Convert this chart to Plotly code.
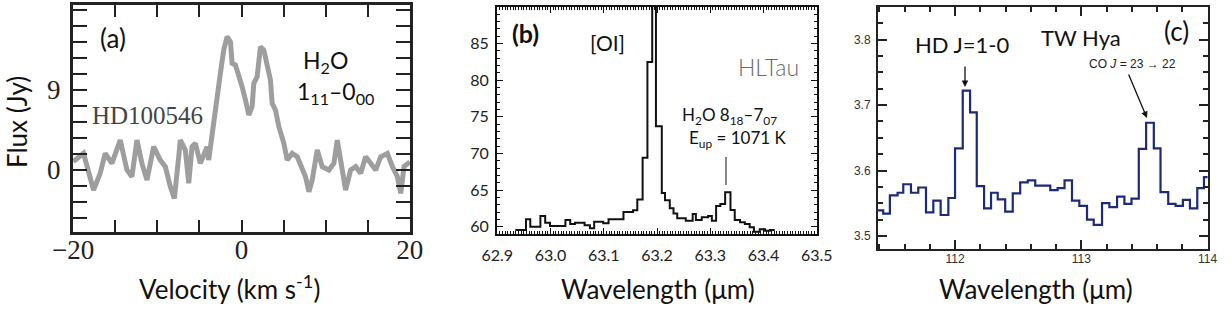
import plotly.graph_objects as go

W, H = 1231, 310

# ---------------- data ----------------
# (a) HD100546, H2O 1_11-0_00
vel_a = [-20.0, -19.76, -18.77, -18.37, -17.58, -16.79, -16.19, -15.40, -14.41, -13.61,
         -13.02, -12.42, -11.83, -11.23, -10.44, -9.65, -9.05, -8.46, -7.98, -7.46,
         -7.27, -6.67, -6.27, -5.88, -5.48, -4.89, -4.49, -4.09, -3.90, -3.70,
         -3.30, -2.90, -2.51, -2.11, -1.71, -1.31, -1.12, -0.72, -0.32, 0.07,
         0.47, 0.87, 1.26, 1.46, 1.86, 2.25, 2.65, 3.05, 3.44, 3.64,
         4.04, 4.44, 5.03, 5.43, 6.02, 6.62, 7.21, 7.61, 8.01, 8.40,
         9.0, 9.59, 10.39, 10.98, 11.38, 11.78, 12.37, 12.96, 13.56, 14.16,
         14.75, 15.35, 15.94, 16.54, 17.33, 17.93, 18.52, 18.92, 19.31, 20.0]
flux_a = [1.0, 1.12, 1.87, 0.38, -2.25, -0.37, 1.87, 0.75, 3.37, 0.0,
          -0.75, 3.37, 0.75, -1.12, 2.62, 1.12, 0.38, -1.87, -3.19, 1.50,
          3.37, 2.25, -1.50, 2.62, 3.0, 0.75, 1.87, 2.62, 1.12, 2.62,
          6.0, 7.88, 10.87, 13.5, 15.0, 14.43, 12.0, 11.81, 10.69, 9.37,
          7.88, 6.18, 7.13, 9.75, 10.5, 13.87, 13.5, 12.0, 10.12, 7.50,
          6.75, 4.88, 3.0, 1.12, 1.87, 1.50, 0.0, -0.75, -2.44, -1.12,
          2.25, 0.38, 0.0, 0.75, 3.37, 1.12, -2.25, 0.0, 0.38, -0.37,
          1.50, 0.75, 0.0, 1.50, 1.87, 0.38, -0.75, -2.62, 0.38, 0.9]
ticks_a_x = [-20, 0, 20]
ticks_a_y = [0, 9]

# (b) HL Tau, [OI] and H2O 8_18-7_07 (bin left edges, last = right end)
lam_b = [62.934, 62.954, 62.962, 62.981, 62.990, 62.999, 63.028, 63.037, 63.046, 63.064,
         63.074, 63.082, 63.099, 63.109, 63.137, 63.155, 63.163, 63.173, 63.182, 63.191,
         63.198, 63.209, 63.215, 63.224, 63.231, 63.238, 63.254, 63.267, 63.273, 63.284,
         63.296, 63.303, 63.311, 63.319, 63.328, 63.338, 63.346, 63.356, 63.365, 63.374,
         63.382, 63.393, 63.403, 63.412, 63.421]
flux_b = [59.55, 61.0, 60.0, 61.46, 60.55, 60.1, 60.9, 60.37, 60.55, 60.2,
          59.78, 60.68, 60.46, 61.0, 62.0, 62.25, 63.7, 69.4, 82.5, 95.0,
          73.7, 64.6, 63.6, 62.5, 61.8, 61.14, 60.82, 61.73, 60.91, 61.28,
          61.46, 60.82, 62.83, 63.1, 64.7, 62.28, 60.91, 60.6, 60.37, 59.92,
          59.32, 59.64, 59.45, 59.55, 59.55]
ticks_b_x = [62.9, 63.0, 63.1, 63.2, 63.3, 63.4, 63.5]
ticks_b_y = [60, 65, 70, 75, 80, 85]

# (c) TW Hya, HD J=1-0 and CO J=23-22 (bin left edges, last = right end)
lam_c = [111.39, 111.431, 111.484, 111.545, 111.590, 111.651, 111.709, 111.770, 111.828, 111.886,
         111.947, 112.000, 112.061, 112.119, 112.172, 112.230, 112.285, 112.338, 112.397, 112.457,
         112.516, 112.576, 112.635, 112.693, 112.754, 112.812, 112.867, 112.926, 112.984, 113.045,
         113.098, 113.164, 113.222, 113.283, 113.341, 113.397, 113.455, 113.513, 113.574, 113.627,
         113.688, 113.746, 113.804, 113.860, 113.918, 113.971, 114.0]
flux_c = [3.539, 3.534, 3.562, 3.566, 3.579, 3.566, 3.574, 3.536, 3.554, 3.532,
          3.558, 3.634, 3.722, 3.689, 3.576, 3.542, 3.566, 3.556, 3.537, 3.565,
          3.582, 3.585, 3.577, 3.577, 3.570, 3.573, 3.585, 3.554, 3.546, 3.525,
          3.517, 3.550, 3.544, 3.560, 3.549, 3.557, 3.633, 3.673, 3.634, 3.567,
          3.549, 3.546, 3.555, 3.542, 3.573, 3.590, 3.590]
ticks_c_x = [112, 113, 114]
ticks_c_y = [3.5, 3.6, 3.7, 3.8]


def px(x):
    return x / W


def py(y):
    return 1 - y / H


SANS = "Lato"
SERIF = "Liberation Serif"

fig = go.Figure()
fig.add_trace(go.Scatter(x=vel_a, y=flux_a, mode="lines", xaxis="x", yaxis="y",
                         line=dict(color="#9e9e9e", width=5), showlegend=False))
fig.add_trace(go.Scatter(x=lam_b, y=flux_b, mode="lines", xaxis="x2", yaxis="y2",
                         line=dict(color="#111111", width=2, shape="hv"), showlegend=False))
fig.add_trace(go.Scatter(x=lam_c, y=flux_c, mode="lines", xaxis="x3", yaxis="y3",
                         line=dict(color="#1c2a78", width=2.2, shape="hv"), showlegend=False))

common = dict(showgrid=False, zeroline=False, showline=True, mirror="allticks",
              ticks="inside", automargin=False)

fig.update_layout(
    width=W, height=H, margin=dict(l=0, r=0, t=0, b=0, autoexpand=False),
    paper_bgcolor="white", plot_bgcolor="white",
    # panel (a)
    xaxis=dict(common, domain=[px(73), px(410)], range=[-20.02, 20.02], anchor="y",
               tickvals=ticks_a_x, ticklen=12, tickwidth=2, linewidth=3, linecolor="#222",
               tickcolor="#222", tickfont=dict(family=SERIF, size=27, color="#222"),
               minor=dict(dtick=5, tick0=0, ticklen=12, tickwidth=2, tickcolor="#222", ticks="inside"),
               ticklabelstandoff=-8),
    yaxis=dict(common, domain=[py(232), py(5)], range=[-6.97, 18.56], anchor="x",
               tickvals=ticks_a_y, ticklen=14, tickwidth=2, linewidth=3, linecolor="#222",
               tickcolor="#222", tickfont=dict(family=SERIF, size=27, color="#222"),
               minor=dict(dtick=1.8, tick0=0, ticklen=14, tickwidth=2, tickcolor="#222", ticks="inside"),
               ticklabelstandoff=4),
    # panel (b)
    xaxis2=dict(common, domain=[px(497), px(817)], range=[62.8995, 63.5005], anchor="y2",
                tickvals=ticks_b_x, tickformat=".1f", ticklen=6, tickwidth=1, linewidth=2,
                linecolor="#111", tickcolor="#111", tickfont=dict(family=SANS, size=16, color="#222"),
                minor=dict(dtick=0.005, tick0=62.9, ticklen=3, tickwidth=1, tickcolor="#111", ticks="inside"),
                ticklabelstandoff=6),
    yaxis2=dict(common, domain=[py(234), py(7)], range=[59.0, 90.0], anchor="x2",
                tickvals=ticks_b_y, ticklen=6, tickwidth=1, linewidth=2,
                linecolor="#111", tickcolor="#111", tickfont=dict(family=SANS, size=16, color="#222"),
                minor=dict(dtick=1, tick0=60, ticklen=3, tickwidth=1, tickcolor="#111", ticks="inside"),
                ticklabelstandoff=3),
    # panel (c)
    xaxis3=dict(common, domain=[px(878), px(1208)], range=[111.39, 114.003], anchor="y3",
                tickvals=ticks_c_x, ticklen=9, tickwidth=1.5, linewidth=2,
                linecolor="#222", tickcolor="#222", tickfont=dict(family="Liberation Sans", size=12, color="#333"),
                minor=dict(dtick=0.2, tick0=112, ticklen=5, tickwidth=1.5, tickcolor="#222", ticks="inside"),
                ticklabelstandoff=-2),
    yaxis3=dict(common, domain=[py(249), py(7)], range=[3.48, 3.85], anchor="x3",
                tickvals=ticks_c_y, tickformat=".1f", ticklen=9, tickwidth=1.5, linewidth=2,
                linecolor="#222", tickcolor="#222", tickfont=dict(family="Liberation Sans", size=12, color="#333"),
                minor=dict(dtick=0.025, tick0=3.5, ticklen=5, tickwidth=1.5, tickcolor="#222", ticks="inside"),
                ticklabelstandoff=3),
)


def note(x, y, text, size, family=SANS, color="#111", angle=0, weight=None, **kw):
    f = dict(family=family, size=size, color=color)
    if weight:
        f["weight"] = weight
    fig.add_annotation(x=px(x), y=py(y), xref="paper", yref="paper", text=text,
                       showarrow=False, xanchor="center", yanchor="middle", textangle=angle,
                       font=f, **kw)


# axis titles
note(17, 122, "Flux (Jy)", 26, angle=-90)
note(229, 287, "Velocity (km s<sup>-1</sup>)", 26)
note(658, 289, "Wavelength (μm)", 26)
note(1036, 289, "Wavelength (μm)", 26)

# panel (a) labels
note(113, 38, "(a)", 26)
note(325, 62, "H<sub>2</sub>O", 23)
note(335, 92, "1<sub>11</sub>–0<sub>00</sub>", 23)
note(147, 115, "HD100546", 25, family=SERIF, color="#444")

# panel (b) labels
note(525, 33, "<b>(b)</b>", 25)
note(607, 43, "[OI]", 21)
note(768, 67, "HLTau", 23, family="Lato", color="#6a6a6a", weight=300)
note(729, 116, "H<sub>2</sub>O 8<sub>18</sub>–7<sub>07</sub>", 17)
note(737, 139, "E<sub>up</sub> = 1071 K", 17)
fig.add_shape(type="line", xref="paper", yref="paper", x0=px(726), x1=px(726),
              y0=py(157), y1=py(185), line=dict(color="#111", width=1))

# panel (c) labels
note(963, 44, "HD J=1-0", 22)
note(1081, 37, "TW Hya", 22)
note(1176, 31, "(c)", 26)
note(1132, 64, "CO <i>J</i> = 23 → 22", 12, family="Liberation Sans", color="#222")
fig.add_annotation(x=px(965), y=py(87), xref="paper", yref="paper", text="",
                   showarrow=True, ax=0, ay=-22, arrowhead=2, arrowsize=1, arrowwidth=1.3,
                   arrowcolor="#111")
fig.add_annotation(x=px(1147), y=py(118), xref="paper", yref="paper", text="",
                   showarrow=True, ax=-19, ay=-45, arrowhead=2, arrowsize=1, arrowwidth=1.3,
                   arrowcolor="#111")

fig.write_html("out.html", config={"displayModeBar": False},
               post_script="document.body.style.margin='0';document.body.style.overflow='hidden';")
